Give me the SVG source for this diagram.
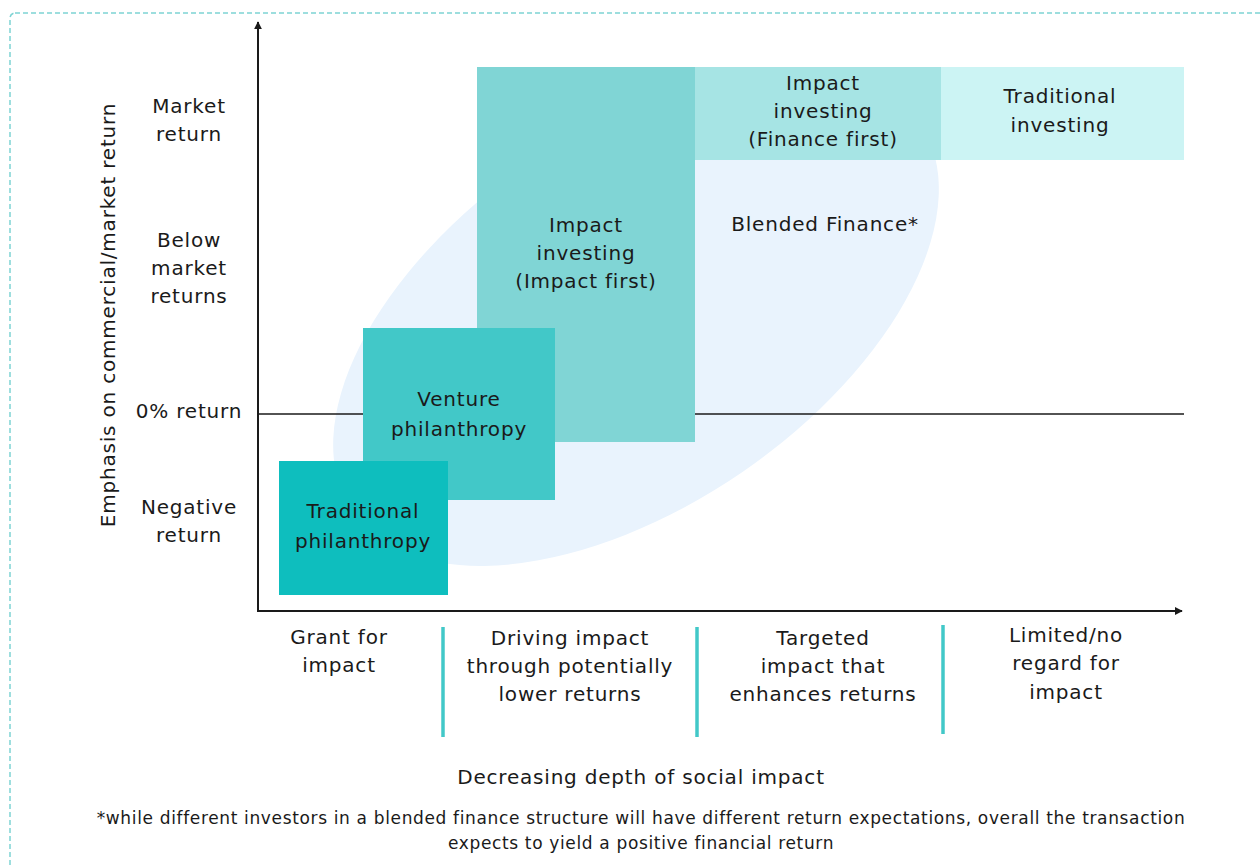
<svg xmlns="http://www.w3.org/2000/svg" width="1260" height="867" viewBox="0 0 1260 867">
<defs>
<style>
text{font-family:"DejaVu Sans","Open Sans","Liberation Sans",sans-serif;fill:#1a1a1a;font-size:20px;text-anchor:middle;letter-spacing:0.8px}
.fn{font-size:17px;letter-spacing:0.65px}
.axis{stroke:#1a1a1a;stroke-width:2;fill:none}
.sep{stroke:#42C8C8;stroke-width:3.5}
</style>
<marker id="ah" viewBox="0 0 10 10" refX="9" refY="5" markerWidth="4" markerHeight="4" orient="auto" markerUnits="strokeWidth">
<path d="M0,0 L10,5 L0,10 z" fill="#1a1a1a"/>
</marker>
</defs>
<rect width="1260" height="867" fill="#ffffff"/>
<rect x="10" y="13" width="1300" height="900" rx="5" fill="none" stroke="#7ED3D3" stroke-width="1.5" stroke-dasharray="5,3"/>

<ellipse id="blended-ellipse" cx="636" cy="317" rx="344" ry="188" transform="rotate(-34.5 636 317)" fill="#E9F3FD"/>

<g id="connectors">
<line class="axis" x1="258" y1="414" x2="1184" y2="414" style="stroke-width:1.6"/>
<line class="axis" x1="258" y1="612" x2="258" y2="22" marker-end="url(#ah)"/>
<line class="axis" x1="257" y1="611" x2="1182" y2="611" marker-end="url(#ah)"/>
<line class="sep" x1="443" y1="627" x2="443" y2="737"/>
<line class="sep" x1="697" y1="627" x2="697" y2="737"/>
<line class="sep" x1="943" y1="625" x2="943" y2="734"/>
</g>

<g id="impact-first">
<rect x="477" y="67" width="218" height="375" fill="#80D5D5"/>
<text x="586" y="232">Impact</text>
<text x="586" y="260">investing</text>
<text x="586" y="288">(Impact first)</text>
</g>
<g id="finance-first">
<rect x="695" y="67" width="246" height="93" fill="#A6E4E4"/>
<text x="823" y="90">Impact</text>
<text x="823" y="118">investing</text>
<text x="823" y="146">(Finance first)</text>
</g>
<g id="traditional-investing">
<rect x="941" y="67" width="243" height="93" fill="#CCF4F4"/>
<text x="1060" y="103">Traditional</text>
<text x="1060" y="132">investing</text>
</g>
<g id="venture-philanthropy">
<rect x="363" y="328" width="192" height="172" fill="#42C8C8"/>
<text x="459" y="406">Venture</text>
<text x="459" y="436">philanthropy</text>
</g>
<g id="traditional-philanthropy">
<rect x="279" y="461" width="169" height="134" fill="#0EBEBE"/>
<text x="363" y="518">Traditional</text>
<text x="363" y="548">philanthropy</text>
</g>
<g id="blended-finance">
<text x="825" y="231">Blended Finance*</text>
</g>

<g id="y-labels">
<text x="108" y="315" transform="rotate(-90 108 315)" dy="7">Emphasis on commercial/market return</text>
<text x="189" y="113">Market</text>
<text x="189" y="141">return</text>
<text x="189" y="247">Below</text>
<text x="189" y="275">market</text>
<text x="189" y="303">returns</text>
<text x="189" y="418">0% return</text>
<text x="189" y="514">Negative</text>
<text x="189" y="542">return</text>
</g>

<g id="x-labels">
<text x="339" y="644">Grant for</text>
<text x="339" y="672">impact</text>
<text x="570" y="645">Driving impact</text>
<text x="570" y="673">through potentially</text>
<text x="570" y="701">lower returns</text>
<text x="823" y="645">Targeted</text>
<text x="823" y="673">impact that</text>
<text x="823" y="701">enhances returns</text>
<text x="1066" y="642">Limited/no</text>
<text x="1066" y="670">regard for</text>
<text x="1066" y="699">impact</text>
<text x="641" y="784">Decreasing depth of social impact</text>
</g>

<g id="footnote">
<text class="fn" x="641" y="824">*while different investors in a blended finance structure will have different return expectations, overall the transaction</text>
<text class="fn" x="641" y="849">expects to yield a positive financial return</text>
</g>
</svg>
